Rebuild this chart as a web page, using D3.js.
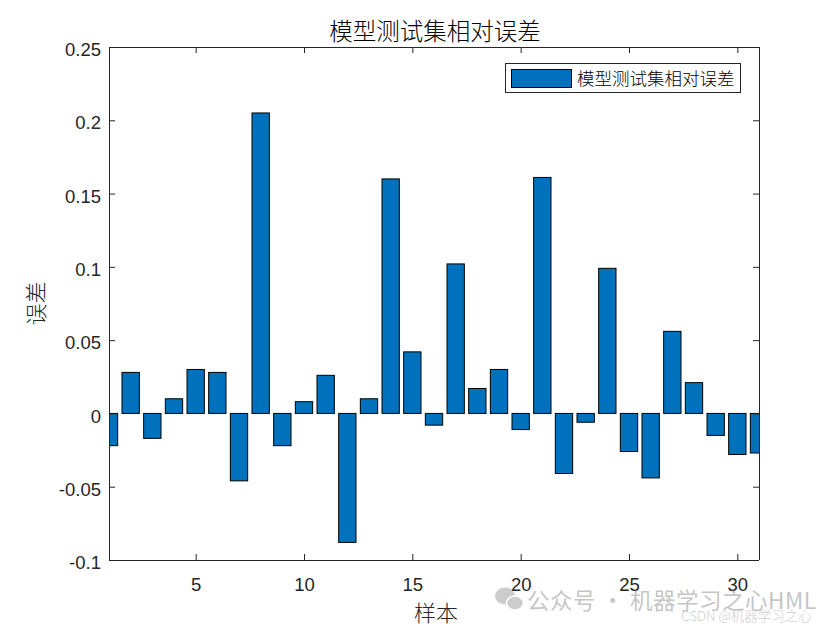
<!DOCTYPE html>
<html>
<head>
<meta charset="utf-8">
<script src="https://cdn.jsdelivr.net/npm/d3@7"></script>
<style>
  html, body { margin: 0; padding: 0; background: #fff; }
  svg { display: block; }
</style>
</head>
<body>
<script>
// ---- data ----
const samples = [1,2,3,4,5,6,7,8,9,10,11,12,13,14,15,16,17,18,19,20,21,22,23,24,25,26,27,28,29,30,31];
const errors = [-0.022, 0.028, -0.017, 0.010, 0.030, 0.028, -0.046, 0.205, -0.022, 0.008,
                0.026, -0.088, 0.010, 0.160, 0.042, -0.008, 0.102, 0.017, 0.030, -0.011,
                0.161, -0.041, -0.006, 0.099, -0.026, -0.044, 0.056, 0.021, -0.015, -0.028, -0.027];
const xTicks = [5, 10, 15, 20, 25, 30];
const yTicks = [-0.1, -0.05, 0, 0.05, 0.1, 0.15, 0.2, 0.25];
const yTickLabels = ["-0.1", "-0.05", "0", "0.05", "0.1", "0.15", "0.2", "0.25"];
const titleText = "模型测试集相对误差";
const legendText = "模型测试集相对误差";
const xLabel = "样本";
const yLabel = "误差";

// ---- layout ----
const W = 840, H = 630;
const L = 109, R = 759, T = 47, B = 560;
const cjk = "'Noto Sans CJK SC', 'Noto Sans', sans-serif";
const num = "'Liberation Sans', Arial, Helvetica, sans-serif";
const axisColor = "#262626";
const barColor = "#0072BD";

const svg = d3.select("body").append("svg").attr("width", W).attr("height", H);
svg.append("rect").attr("width", W).attr("height", H).attr("fill", "#fff");

const x = d3.scaleLinear().domain([1, 31]).range([L, R]);
const y = d3.scaleLinear().domain([-0.1, 0.25]).range([B, T]);
const barW = 0.8;

svg.append("clipPath").attr("id", "plotclip")
  .append("rect").attr("x", L).attr("y", T).attr("width", R - L).attr("height", B - T);

// bars
svg.append("g").attr("clip-path", "url(#plotclip)")
  .selectAll("rect").data(samples).join("rect")
  .attr("x", (d) => x(d - barW / 2))
  .attr("width", (d) => x(d + barW / 2) - x(d - barW / 2))
  .attr("y", (d, i) => y(Math.max(0, errors[i])))
  .attr("height", (d, i) => Math.abs(y(errors[i]) - y(0)))
  .attr("fill", barColor)
  .attr("stroke", "#000")
  .attr("stroke-width", 1);

// axes (ticks inward, box)
const tickLen = 6;
const axB = svg.append("g").attr("transform", `translate(0,${B})`)
  .call(d3.axisBottom(x).tickValues(xTicks).tickSize(-tickLen).tickPadding(18).tickFormat(d3.format("d")));
const axT = svg.append("g").attr("transform", `translate(0,${T})`)
  .call(d3.axisTop(x).tickValues(xTicks).tickSize(-tickLen).tickFormat(""));
const axL = svg.append("g").attr("transform", `translate(${L},0)`)
  .call(d3.axisLeft(y).tickValues(yTicks).tickSize(-tickLen).tickPadding(8)
    .tickFormat((d, i) => yTickLabels[i]));
const axR = svg.append("g").attr("transform", `translate(${R},0)`)
  .call(d3.axisRight(y).tickValues(yTicks).tickSize(-tickLen).tickFormat(""));

[axB, axT, axL, axR].forEach(g => {
  g.select(".domain").attr("stroke", axisColor).attr("stroke-width", 1);
  g.selectAll(".tick line").attr("stroke", axisColor);
  g.selectAll(".tick text").attr("fill", axisColor)
    .style("font-family", num).style("font-size", "18.5px");
});
axB.select(".domain").attr("d", `M${L},0.5H${R}`);
axT.select(".domain").attr("d", `M${L},0.5H${R}`);
axL.select(".domain").attr("d", `M0.5,${T}V${B}`);
axR.select(".domain").attr("d", `M0.5,${T}V${B}`);
axB.selectAll(".tick text").attr("dy", "0.71em");
axL.selectAll(".tick text").attr("dy", "0.47em");

// title
svg.append("text").attr("x", (L + R) / 2 + 1).attr("y", 40)
  .attr("text-anchor", "middle").attr("fill", "#000")
  .style("font-family", cjk).style("font-size", "23.5px").style("font-weight", 300)
  .text(titleText);

// axis labels
svg.append("text").attr("x", (L + R) / 2 + 2).attr("y", 621)
  .attr("text-anchor", "middle").attr("fill", "#262626")
  .style("font-family", cjk).style("font-size", "22px").style("font-weight", 300)
  .text(xLabel);
svg.append("text")
  .attr("transform", `translate(44,${(T + B) / 2}) rotate(-90)`)
  .attr("text-anchor", "middle").attr("fill", "#262626")
  .style("font-family", cjk).style("font-size", "22px").style("font-weight", 300)
  .text(yLabel);

// legend
const lg = svg.append("g");
lg.append("rect").attr("x", 505.5).attr("y", 63.5).attr("width", 235).attr("height", 29)
  .attr("fill", "#fff").attr("stroke", axisColor).attr("stroke-width", 1);
lg.append("rect").attr("x", 511.5).attr("y", 69.5).attr("width", 60).attr("height", 18)
  .attr("fill", barColor).attr("stroke", "#000").attr("stroke-width", 1);
lg.append("text").attr("x", 577).attr("y", 84.5)
  .attr("fill", "#000").style("font-family", cjk).style("font-size", "17.5px").style("font-weight", 300)
  .text(legendText);

// watermark
const wm = svg.append("g").attr("opacity", 0.42);
wm.append("ellipse").attr("cx", 505).attr("cy", 596).attr("rx", 10).attr("ry", 8.5).attr("fill", "#888");
wm.append("ellipse").attr("cx", 515).attr("cy", 603).attr("rx", 8.5).attr("ry", 7).attr("fill", "#888")
  .attr("stroke", "#fff").attr("stroke-width", 1.5);
wm.append("text").attr("x", 527).attr("y", 609)
  .attr("fill", "#777").style("font-family", cjk).style("font-size", "22.5px")
  .style("letter-spacing", "0.5px")
  .text("公众号 · 机器学习之心HML");
wm.append("text").attr("x", 681).attr("y", 621)
  .attr("fill", "#888").style("font-family", cjk).style("font-size", "13.5px").style("font-weight", 300)
  .text("CSDN @机器学习之心");
</script>
</body>
</html>
